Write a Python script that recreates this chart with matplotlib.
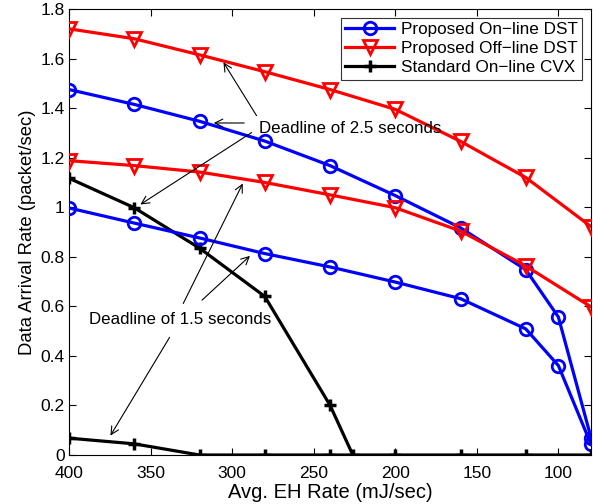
import matplotlib
matplotlib.use("Agg")
import matplotlib.pyplot as plt

plt.rcParams['font.family'] = ['Liberation Sans', 'DejaVu Sans']

# Data
x_full = [400, 360, 320, 280, 240, 200, 160, 120, 100, 80]
x_red = [400, 360, 320, 280, 240, 200, 160, 120, 80]

blue_25 = [1.475, 1.415, 1.347, 1.267, 1.168, 1.047, 0.917, 0.748, 0.557, 0.07]
blue_15 = [0.997, 0.936, 0.876, 0.813, 0.759, 0.698, 0.631, 0.509, 0.361, 0.043]

red_25 = [1.72, 1.68, 1.615, 1.547, 1.475, 1.395, 1.266, 1.12, 0.922]
red_15 = [1.188, 1.168, 1.142, 1.1, 1.05, 0.998, 0.904, 0.763, 0.598]

x_cvx_25 = [400, 360, 320, 280, 240, 226]
cvx_25 = [1.117, 0.998, 0.835, 0.64, 0.201, 0.0]
x_cvx_15 = [400, 360, 320, 280, 240, 200, 160, 120, 80]
cvx_15 = [0.068, 0.045, 0.0, 0.0, 0.0, 0.0, 0.0, 0.0, 0.0]

fig = plt.figure(figsize=(5.93, 5.04), dpi=100)
ax = fig.add_axes([69/593, 1 - 455/504, (591-69)/593, (455-9)/504])

lw = 2.3
ax.plot(x_full, blue_25, color='#0000ff', lw=lw, marker='o', ms=9, mfc='none', mew=2,
        label='Proposed On\u2212line DST', zorder=3)
ax.plot(x_red, red_25, color='#ff0000', lw=lw, marker='v', ms=10, mfc='none', mew=2,
        label='Proposed Off\u2212line DST', zorder=3)
ax.plot(x_cvx_25, cvx_25, color='black', lw=lw, marker='+', ms=9, mew=2.5,
        label='Standard On\u2212line CVX', zorder=3)
ax.plot(x_full, blue_15, color='#0000ff', lw=lw, marker='o', ms=9, mfc='none', mew=2, zorder=3)
ax.plot(x_red, red_15, color='#ff0000', lw=lw, marker='v', ms=10, mfc='none', mew=2, zorder=3)
ax.plot(x_cvx_15, cvx_15, color='black', lw=lw, marker='+', ms=9, mew=2.5, zorder=3)

ax.set_xlim(400, 80)
ax.set_ylim(0, 1.8)
ax.set_xticks([400, 350, 300, 250, 200, 150, 100])
ax.set_yticks([0, 0.2, 0.4, 0.6, 0.8, 1.0, 1.2, 1.4, 1.6, 1.8])
ax.set_yticklabels(['0', '0.2', '0.4', '0.6', '0.8', '1', '1.2', '1.4', '1.6', '1.8'])
ax.tick_params(direction='in', top=True, right=True, labelsize=12.5, length=5, width=0.8)
ax.tick_params(axis='x', pad=8)
ax.tick_params(axis='y', pad=3)
for s in ax.spines.values():
    s.set_linewidth(0.8)

ax.set_xlabel('Avg. EH Rate (mJ/sec)', fontsize=14.5, labelpad=1)
ax.set_ylabel('Data Arrival Rate (packet/sec)', fontsize=13.3, labelpad=3)

leg = ax.legend(loc='upper right', fontsize=12.3, frameon=True, fancybox=False,
                edgecolor='black', borderpad=0.25, handlelength=2.9, labelspacing=0.25,
                handletextpad=0.4, borderaxespad=0.5)
leg.get_frame().set_linewidth(0.8)

def to_data(px, py):
    inv = ax.transData.inverted()
    return tuple(inv.transform((px, 504 - py)))

fig.canvas.draw()

arrow = dict(arrowstyle='->', color='black', lw=0.8, mutation_scale=14)

# Deadline of 2.5 seconds
ax.text(*to_data(259, 128), 'Deadline of 2.5 seconds', fontsize=12.2, va='center', ha='left')
for tail, tip in [((258, 118), (222, 60)), ((247, 123), (211, 123)), ((254, 131), (138, 206))]:
    ax.annotate('', xy=to_data(*tip), xytext=to_data(*tail), arrowprops=arrow)

# Deadline of 1.5 seconds
ax.text(*to_data(89, 319), 'Deadline of 1.5 seconds', fontsize=12.2, va='center', ha='left')
for tail, tip in [((182, 306), (244, 181)), ((200, 302), (252, 254)), ((171, 335), (109, 438))]:
    ax.annotate('', xy=to_data(*tip), xytext=to_data(*tail), arrowprops=arrow)

fig.savefig('out.png', dpi=100)
